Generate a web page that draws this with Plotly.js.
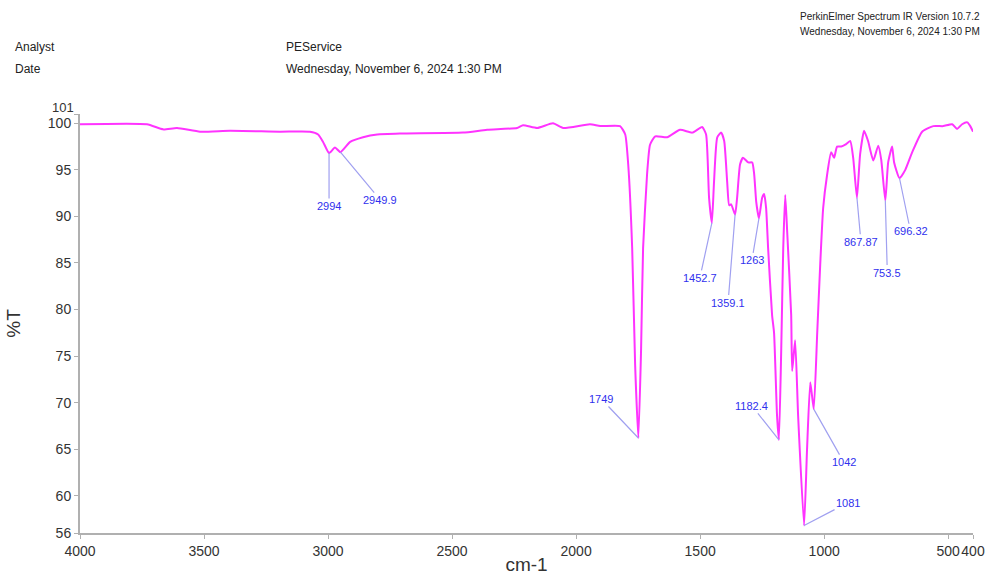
<!DOCTYPE html>
<html>
<head>
<meta charset="utf-8">
<script src="https://cdn.plot.ly/plotly-3.0.1.min.js"></script>
<style>html,body{margin:0;padding:0;background:#fff;}#chart{width:992px;height:575px;}</style>
</head>
<body>
<div id="chart"></div>
<script>
// Spectrum trace (wavenumber in cm-1, %T)
const wavenumber = [4000,3730,3665,3609,3516,3395,3194,3073,3040,3020,2996,2972,2950,2911,2859,2802,2710,2456,2359,2238,2214,2157,2093,2052,1944,1903,1823,1802,1790,1774,1762,1749,1738,1730,1714,1702,1681,1633,1581,1532,1492,1476,1464,1452.7,1444,1431,1415,1403,1391,1383,1375,1359.1,1351,1339,1327,1306,1290,1282,1274,1263,1250,1242,1234,1226,1210,1202,1190,1182.4,1173,1165,1157,1149,1133,1129,1117,1105,1081,1069,1056,1042,1028,1016,1004,988,972,960,948,931,915,895,883,867.87,855,839,823,802,782,770,753.5,742,726,718,696.32,673,645,605,560,520,484,464,444,423,411,400];
const transmittance = [99.9,99.9,99.35,99.5,99.1,99.2,99.1,99.1,98.8,98.0,96.8,97.4,96.9,98.0,98.5,98.8,98.9,99.0,99.3,99.5,99.8,99.5,100.0,99.5,99.9,99.7,99.7,98.8,95.6,86.6,74.0,66.2,75.8,86.6,94.5,97.7,98.6,98.5,99.3,99.0,99.6,98.8,92.0,89.3,93.7,98.5,99.0,98.1,93.7,91.2,91.3,90.2,92.0,95.6,96.3,95.8,95.8,94.5,91.6,89.8,92.0,92.4,90.9,86.6,79.4,77.5,68.6,66.0,75.8,86.6,92.3,88.3,79.4,73.4,76.7,68.6,56.8,65.0,72.2,69.3,77.5,84.8,90.9,94.5,96.9,96.3,97.5,97.5,97.7,98.1,96.3,92.0,96.7,99.2,98.1,96.0,97.6,96.1,91.7,95.8,97.5,95.8,94.1,95.0,96.9,99.1,99.7,99.7,99.9,99.4,99.9,100.1,99.7,99.1];

// Peak labels
const peakLabels = ["2994","2949.9","1749","1452.7","1359.1","1263","1182.4","1081","1042","867.87","753.5","696.32"];
const peakX = [2996,2950,1749,1452.7,1359.1,1263,1182.4,1081,1042,867.87,753.5,696.32];
const peakY = [96.8,96.9,66.2,89.3,90.2,89.8,66.0,56.8,69.3,92.0,91.7,94.1];
const peakOffX = [0,40,-37,-12,-7,-7,-27,44,30,4,2,11];
const peakOffY = [53,48,-39,55,88,42,-34,-23,53,44,72,53];

// Axis ticks
const xTicks = [4000,3500,3000,2500,2000,1500,1000,500,400];
const yTicks = [56,60,65,70,75,80,85,90,95,100,101];

const L = 80, R = 19, T = 114, B = 42, W = 992, H = 575;
const pw = W - L - R, ph = H - T - B;
const px = v => (v - L) / pw;
const py = v => 1 - (v - T) / ph;
const FONT = 'Liberation Sans, Arial, sans-serif';

const annotations = peakLabels.map((t, i) => ({
  x: peakX[i], y: peakY[i], xref: 'x', yref: 'y',
  text: t, showarrow: true, arrowhead: 0, arrowwidth: 1.2,
  arrowcolor: '#a0a0f0', ax: peakOffX[i], ay: peakOffY[i],
  standoff: 0, font: {family: FONT, size: 11, color: '#3030ee'}
}));

const hdrFont = {family: FONT, size: 12, color: '#222'};
const smallFont = {family: FONT, size: 10, color: '#222'};
const hdr = [
  ['Analyst', 13, 47, hdrFont], ['Date', 13, 69, hdrFont],
  ['PEService', 284, 47, hdrFont], ['Wednesday, November 6, 2024 1:30 PM', 284, 69, hdrFont],
  ['PerkinElmer Spectrum IR Version 10.7.2', 798, 17, smallFont],
  ['Wednesday, November 6, 2024 1:30 PM', 798, 32, smallFont]
];
hdr.forEach(h => annotations.push({
  text: h[0], xref: 'paper', yref: 'paper', x: px(h[1]), y: py(h[2]),
  xanchor: 'left', yanchor: 'middle', showarrow: false, font: h[3]
}));
// top "101" tick label, nudged up as in the reference so it sits just above "100"
annotations.push({
  text: '101', xref: 'paper', yref: 'paper', x: px(76), y: py(108),
  xanchor: 'right', yanchor: 'middle', showarrow: false,
  font: {family: FONT, size: 13, color: '#333'}
});

const trace = {
  x: wavenumber, y: transmittance, type: 'scatter', mode: 'lines',
  line: {color: '#ff33ff', width: 2, shape: 'spline', smoothing: 0.5},
  hoverinfo: 'x+y'
};

const axisCommon = {
  showgrid: false, zeroline: false, showline: true, linecolor: '#b0b0b0', linewidth: 2,
  ticks: 'outside', ticklen: 4, tickcolor: '#b0b0b0', tickwidth: 1,
  tickfont: {family: FONT, size: 14, color: '#333'}
};

const layout = {
  width: W, height: H,
  margin: {l: L, r: R, t: T, b: B},
  paper_bgcolor: '#fff', plot_bgcolor: '#fff',
  showlegend: false,
  xaxis: Object.assign({}, axisCommon, {
    range: [4000, 400], autorange: false, tickangle: 0,
    tickmode: 'array', tickvals: xTicks, ticktext: xTicks.map(String),
    title: {text: 'cm-1', font: {family: FONT, size: 19, color: '#333'}, standoff: 2}
  }),
  yaxis: Object.assign({}, axisCommon, {
    range: [56, 101], autorange: false,
    tickmode: 'array', tickvals: yTicks, ticktext: yTicks.map(v => v === 101 ? '' : String(v)),
    title: {text: '%T', font: {family: FONT, size: 19, color: '#333'}, standoff: 22}
  }),
  annotations: annotations
};

Plotly.newPlot('chart', [trace], layout, {displayModeBar: false, staticPlot: true});
</script>
</body>
</html>
